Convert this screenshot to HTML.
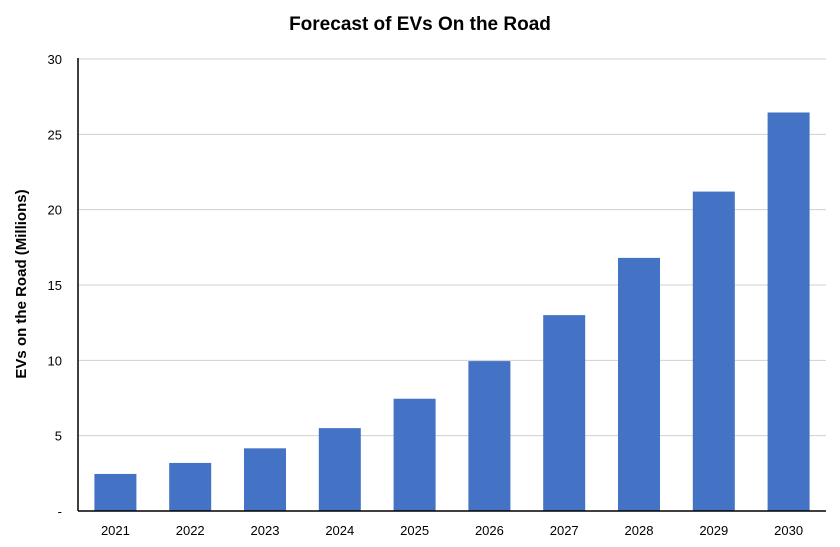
<!DOCTYPE html>
<html><head><meta charset="utf-8"><style>
body{margin:0;background:#fff;}
svg{display:block;font-family:"Liberation Sans",Calibri,sans-serif;}
</style></head><body>
<svg width="840" height="547">
<text x="420" y="30" text-anchor="middle" font-size="19" font-weight="bold" fill="#000">Forecast of EVs On the Road</text>
<text transform="translate(26,284) rotate(-90)" text-anchor="middle" font-size="15" font-weight="bold" fill="#000">EVs on the Road (Millions)</text>
<g id="grid"></g>
<g id="bars"></g>
<g id="ylabels"></g>
<g id="xlabels"></g>
<line x1="78" y1="58" x2="78" y2="511" stroke="#000" stroke-width="1.5"/>
<line x1="78" y1="511" x2="826" y2="511" stroke="#000" stroke-width="1.5"/>
</svg>
<script>
const categories=["2021","2022","2023","2024","2025","2026","2027","2028","2029","2030"];
const values=[2.46,3.19,4.16,5.5,7.45,9.95,13.0,16.8,21.2,26.45];
const yTicks=[0,5,10,15,20,25,30];
const yTickLabels=["-","5","10","15","20","25","30"];
const NS="http://www.w3.org/2000/svg";
const x0=78,x1=826,yBase=511,yTop=59,yMax=30;
const y=v=>yBase-(v/yMax)*(yBase-yTop);
const band=(x1-x0)/categories.length;
const bw=42;
const g=document.getElementById('grid'),b=document.getElementById('bars'),yl=document.getElementById('ylabels'),xl=document.getElementById('xlabels');
function mk(t,a){const e=document.createElementNS(NS,t);for(const k in a)e.setAttribute(k,a[k]);return e;}
yTicks.forEach((t,i)=>{
 if(t>0){const l=mk('line',{x1:x0,x2:x1,y1:y(t),y2:y(t),stroke:'#d0d0d0','stroke-width':1});
 
 g.appendChild(l);}
 const tx=mk('text',{x:62,y:y(t)+5,'text-anchor':'end','font-size':13,fill:'#000'});
 tx.textContent=yTickLabels[i];
 
 yl.appendChild(tx);
});
categories.forEach((c,i)=>{
 const cx=x0+band*(i+0.5);
 const r=mk('rect',{x:cx-bw/2,y:y(values[i]),width:bw,height:yBase-y(values[i]),fill:'#4472c4'});
 
 b.appendChild(r);
 const tx=mk('text',{x:cx,y:535,'text-anchor':'middle','font-size':13,fill:'#000'});
 tx.textContent=c;
 
 xl.appendChild(tx);
});
</script>
</body></html>
